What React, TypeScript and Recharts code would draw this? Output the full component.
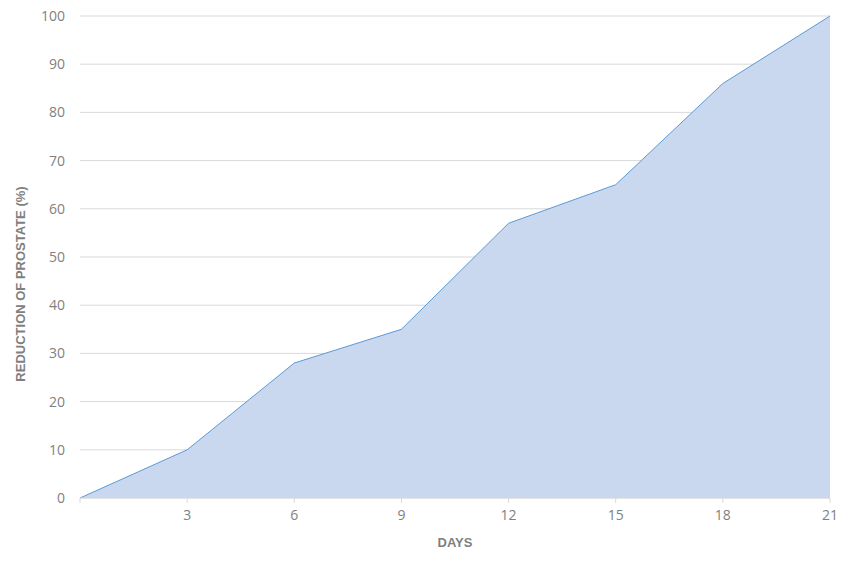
import React from 'react';
import { AreaChart, Area, XAxis, YAxis, CartesianGrid } from 'recharts';

const days = [0, 3, 6, 9, 12, 15, 18, 21];
const reduction = [0, 10, 28, 35, 57, 65, 86, 100];
const xTicks = [0, 3, 6, 9, 12, 15, 18, 21];
const yTicks = [0, 10, 20, 30, 40, 50, 60, 70, 80, 90, 100];

const data = days.map((d, i) => ({ day: d, value: reduction[i] }));

const font = '"Open Sans", "Liberation Sans", sans-serif';
const labelFont = '"Liberation Sans", Arial, sans-serif';

const YLabel = () => (
  <text
    x={25}
    y={284}
    transform="rotate(-90, 25, 284)"
    textAnchor="middle"
    fill="#7f7f7f"
    fontSize={13}
    fontWeight="bold"
    fontFamily={labelFont}
  >
    REDUCTION OF PROSTATE (%)
  </text>
);

export default function App() {
  return (
    <div style={{ position: 'absolute', left: 0, top: 0, width: 854, height: 568, background: '#fff' }}>
      <AreaChart width={854} height={568} data={data} margin={{ top: 16, right: 24, bottom: 0, left: 0 }}>
        <CartesianGrid horizontal vertical={false} stroke="#d9d9d9" />
        <XAxis
          dataKey="day"
          type="number"
          domain={[0, 21]}
          ticks={xTicks}
          tickFormatter={(v: number) => (v === 0 ? '' : String(v))}
          height={70}
          stroke="#d9d9d9"
          tickSize={5}
          tickMargin={7}
          tick={{ fill: '#7f7f7f', fontSize: 14, fontFamily: font }}
          label={{ value: 'DAYS', position: 'insideBottom', offset: 21, fill: '#7f7f7f', fontSize: 13, fontWeight: 'bold', fontFamily: labelFont }}
        />
        <YAxis
          type="number"
          domain={[0, 100]}
          ticks={yTicks}
          width={80}
          axisLine={false}
          tickLine={false}
          tickMargin={9}
          tick={{ fill: '#7f7f7f', fontSize: 14, fontFamily: font }}
          label={<YLabel />}
        />
        <Area
          type="linear"
          dataKey="value"
          stroke="#5b9bd5"
          strokeWidth={1}
          fill="#c9d7ef"
          fillOpacity={1}
          isAnimationActive={false}
        />
      </AreaChart>
    </div>
  );
}
